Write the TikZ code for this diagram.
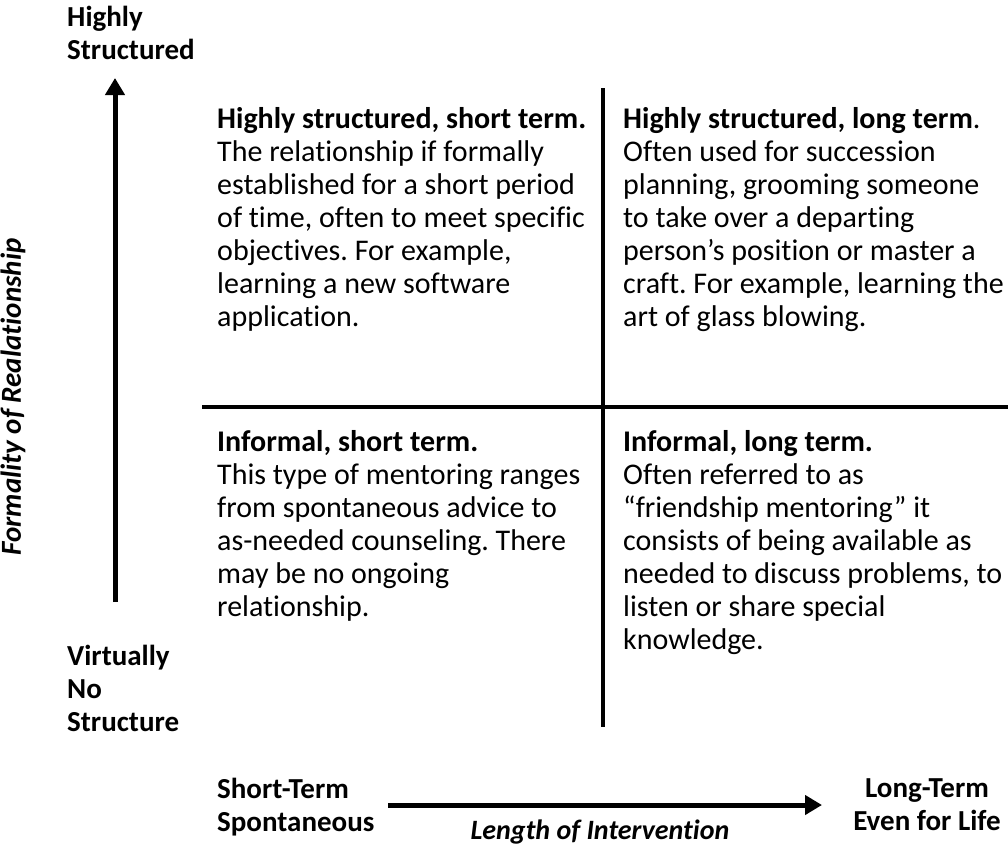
\documentclass[tikz,border=0pt]{standalone}
\usepackage{fontspec}
\setmainfont{Carlito}[Ligatures=NoCommon]
\frenchspacing
\usetikzlibrary{arrows.meta}

\begin{document}
\begin{tikzpicture}[x=1pt,y=-1pt,
  quad/.style={anchor=north west,inner sep=0pt,align=left,font=\fontsize{30}{33}\selectfont},
  lbl/.style={anchor=north west,inner sep=0pt,align=left,font=\fontsize{29}{33}\selectfont\bfseries},
  bigarrow/.style={line width=5pt,-{Triangle[width=19pt,length=17pt]}}]
\useasboundingbox (0,0) rectangle (1008,846);

% quadrant lines
\coordinate (vtop) at (603,88);
\coordinate (vbot) at (603,727);
\coordinate (hleft) at (202,407);
\coordinate (hright) at (1008,407);
\draw[line width=4.5pt] (vtop) -- (vbot); %vertical
\draw[line width=4.5pt] (hleft) -- (hright); %horizontal

% axes
\coordinate (ybot) at (115,602);
\coordinate (ytop) at (115,78);
\coordinate (xleft) at (388,805);
\coordinate (xright) at (822,805);
\draw[bigarrow] (ybot) -- (ytop); %formality
\draw[bigarrow] (xleft) -- (xright); %length

% axis labels
\node[lbl] (hs) at (67,6) {Highly\\Structured};
\node[lbl] (ns) at (67,645) {Virtually\\No\\Structure};
\node[lbl] (st) at (217,778) {Short-Term\\Spontaneous};
\node[lbl,anchor=north,align=center] (lt) at (927,778) {Long-Term\\Even for Life};
\node[font=\fontsize{28}{33}\selectfont\bfseries\itshape,inner sep=0pt,anchor=base] (lenlbl) at (600,839) {Length of Intervention};
\node[font=\fontsize{29}{33}\selectfont\bfseries\itshape,inner sep=0pt,rotate=90] (formlbl) at (13,397) {Formality of Realationship};

% quadrants
\node[quad] (tl) at (217,107) {\textbf{Highly structured, short term.}\\
The relationship if formally\\
established for a short period\\
of time, often to meet specific\\
objectives. For example,\\
learning a new software\\
application.};
\node[quad] (tr) at (623,107) {\textbf{Highly structured, long term}.\\
Often used for succession\\
planning, grooming someone\\
to take over a departing\\
person’s position or master a\\
craft. For example, learning the\\
art of glass blowing.};
\node[quad] (bl) at (217,430) {\textbf{Informal, short term.}\\
This type of mentoring ranges\\
from spontaneous advice to\\
as-needed counseling. There\\
may be no ongoing\\
relationship.};
\node[quad] (br) at (623,430) {\textbf{Informal, long term.}\\
Often referred to as\\
“friendship mentoring” it\\
consists of being available as\\
needed to discuss problems, to\\
listen or share special\\
knowledge.};

\end{tikzpicture}
\end{document}
